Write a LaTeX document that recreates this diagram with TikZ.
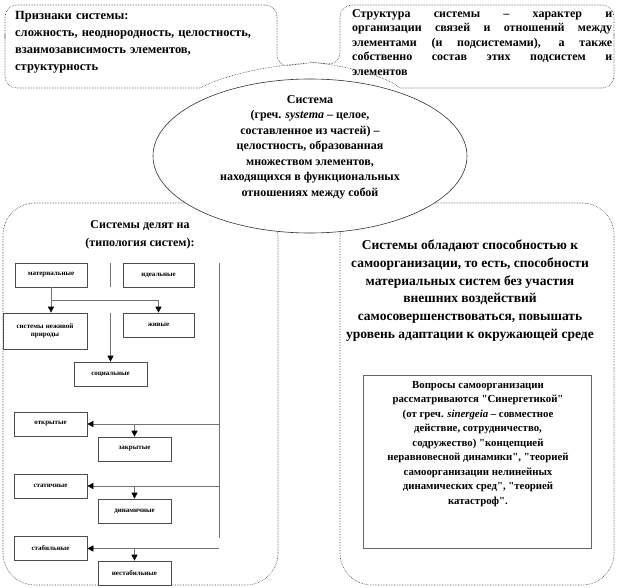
\documentclass[tikz,border=0pt]{standalone}
\usepackage{fontspec}
\setmainfont{Liberation Serif}
\usetikzlibrary{arrows.meta, shapes.geometric}
\newcommand{\dq}{\textquotedbl}

\begin{document}
\begin{tikzpicture}[x=1pt, y=-1pt,
  callout/.style={draw=black!75, densely dotted, line width=0.6pt, fill=white},
  sbox/.style={draw=black!70, line width=0.7pt, fill=white, minimum width=73pt, minimum height=24pt,
    inner sep=1pt, align=center, font=\fontsize{7}{8.5}\selectfont\bfseries},
  conn/.style={draw=black!55, line width=0.7pt},
  arr/.style={conn, -{Triangle[length=6pt, width=6pt, color=black]}},
  txt/.style={inner sep=0pt}]
  \useasboundingbox (0,0) rectangle (618,588);

  % callouts
  \draw[callout] (5,46) [rounded corners=12pt] |- (277,5) -- (277,67) [sharp corners] -- (309,63)
    .. controls (265,66) and (225,75) .. (200,88) [rounded corners=12pt] -| (5,46) -- cycle;
  \draw[callout] (614,46) [rounded corners=12pt] |- (340,5) -- (340,65) [sharp corners] -- (309,62)
    .. controls (350,66) and (385,76) .. (400,88) [rounded corners=12pt] -| (614,46) -- cycle;
  \draw[callout] (3,400) [rounded corners=32pt] |- (230,203) [sharp corners] -- (272,170) -- (278,236)
    [rounded corners=32pt] |- (3,585) -- cycle;
  \draw[callout] (614,400) [rounded corners=32pt] |- (380,203) [sharp corners] -- (346,170) -- (340,236)
    [rounded corners=32pt] |- (614,585) -- cycle;

  \node[ellipse, draw=black!80, line width=0.6pt, fill=white, minimum width=314pt, minimum height=154pt] (sys) at (310,156) {};

  \node[txt, anchor=north west, text width=262pt, align=left, font=\fontsize{12.5}{17}\selectfont\bfseries] (signs) at (15,11)
    {Признаки системы:\\сложность, неоднородность, целостность,\\взаимозависимость элементов,\\структурность};
  \node[txt, anchor=north west, text width=260pt, align=justify, font=\fontsize{12}{14.5}\selectfont\bfseries] (struct) at (352,9)
    {Структура системы – характер и\linebreak организации связей и отношений между\linebreak
     элементами (и подсистемами), а также\linebreak собственно состав этих подсистем и\linebreak элементов};
  \node[txt, anchor=north, align=center, font=\fontsize{12}{15.5}\selectfont\bfseries] (systxt) at (310,95)
    {Система\\(греч. \textit{systema} – целое,\\составленное из частей) –\\целостность, образованная\\
     множеством элементов,\\находящихся в функциональных\\отношениях между собой};
  \node[txt, anchor=north, align=center, font=\fontsize{12}{18}\selectfont\bfseries] (types) at (140,220)
    {Системы делят на\\(типология систем):};
  \node[txt, anchor=north, align=center, font=\fontsize{13.5}{17.7}\selectfont\bfseries] (self) at (470,240)
    {Системы обладают способностью к\\самоорганизации, то есть, способности\\материальных систем без участия\\
     внешних воздействий\\самосовершенствоваться, повышать\\уровень адаптации к окружающей среде};

  \draw[draw=black!60, line width=1pt] (363,375) rectangle (591,548);
  \node[txt, anchor=north, align=center, font=\fontsize{10.8}{14.5}\selectfont\bfseries] (synerg) at (478,381)
    {Вопросы самоорганизации\\рассматриваются \dq Синергетикой\dq\\(от греч. \textit{sinergeia} – совместное\\
     действие, сотрудничество,\\содружество) \dq концепцией\\неравновесной динамики\dq, \dq теорией\\
     самоорганизации нелинейных\\динамических сред\dq, \dq теорией\\катастроф\dq.};

  % typology
  \node[sbox, minimum width=72pt] (mat) at (51,275) {материальные};
  \node[sbox, minimum width=71pt] (ideal) at (158.5,275) {идеальные};
  \node[sbox, minimum width=84pt, minimum height=36pt, text width=80pt] (nonliv) at (45,331) {системы неживой\\природы};
  \node[sbox, minimum width=71pt] (liv) at (158.5,325) {живые};
  \node[sbox] (soc) at (110.5,374) {социальные};
  \node[sbox] (open) at (50.5,424) {открытые};
  \node[sbox] (closed) at (134.5,449) {закрытые};
  \node[sbox] (stat) at (50.5,486) {статичные};
  \node[sbox] (dyn) at (134.5,511) {динамичные};
  \node[sbox] (stab) at (50.5,548.5) {стабильные};
  \node[sbox] (unstab) at (134.5,573) {нестабильные};

  \coordinate (fork) at (51,300);
  \coordinate (mid) at (110.5,313);
  \coordinate (o1) at (219,424);
  \coordinate (o2) at (219,486);
  \coordinate (o3) at (219,548.5);

  \draw[conn] (110,263) -- (110,287);
  \draw[conn] (219,263) -- (219,538);
  \draw[conn] (fork) -- (fork -| liv);
  \draw[arr] (mat.south) -- (mat.south |- nonliv.north);
  \draw[arr] (fork -| liv) -- (liv.north);
  \draw[arr] (mid) -- (soc.north);
  \draw[arr] (o1) -- (open.east);
  \draw[arr] (closed.north |- o1) -- (closed.north);
  \draw[arr] (o2) -- (stat.east);
  \draw[arr] (dyn.north |- o2) -- (dyn.north);
  \draw[arr] (o3) -- (stab.east);
  \draw[arr] (unstab.north |- o3) -- (unstab.north);
\end{tikzpicture}
\end{document}
